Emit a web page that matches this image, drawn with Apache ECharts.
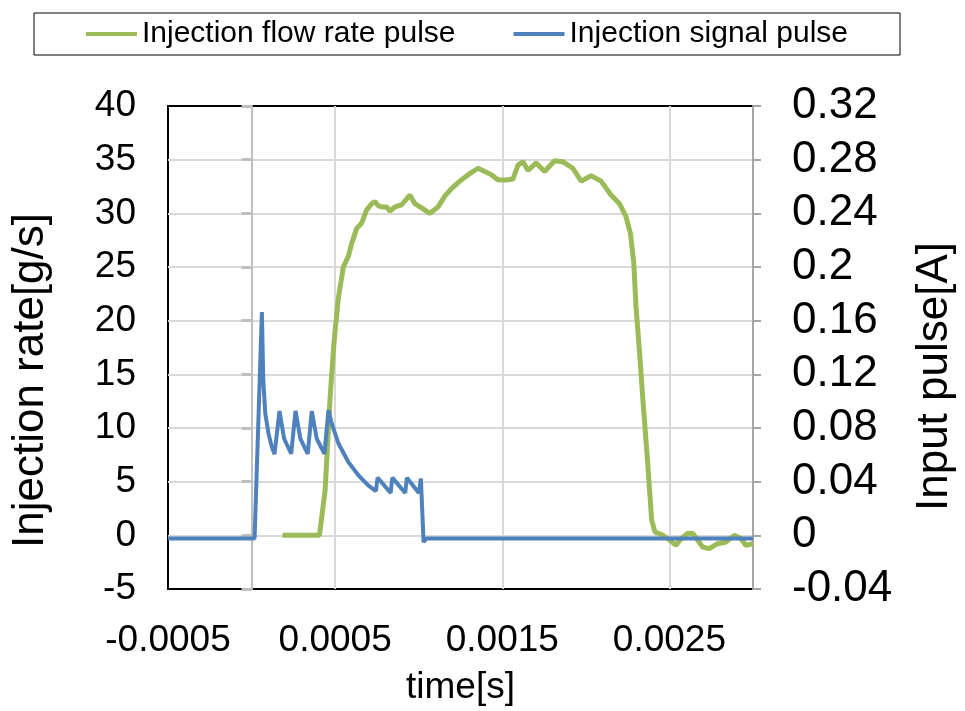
<!DOCTYPE html>
<html>
<head>
<meta charset="utf-8">
<script src="https://cdn.jsdelivr.net/npm/echarts@6/dist/echarts.min.js"></script>
<style>
  html, body { margin: 0; padding: 0; background: #fff; }
  #container { width: 965px; height: 711px; }
</style>
</head>
<body>
<div id="container"></div>
<script>
// time [s] and flow rate [g/s] of the injection flow rate pulse
var flowTime = [0.000185, 0.000406, 0.00044, 0.00047, 0.00049, 0.0005, 0.00052, 0.00054, 0.000549, 0.000579,
    0.000599, 0.000629, 0.000659, 0.000688, 0.000718, 0.000738, 0.000758, 0.000778, 0.000808, 0.000828,
    0.000858, 0.000898, 0.000947, 0.000977, 0.001017, 0.001067, 0.001116, 0.001156, 0.001196, 0.001246,
    0.001296, 0.001355, 0.001395, 0.001435, 0.001475, 0.001524, 0.001564, 0.001594, 0.001624, 0.001654,
    0.001703, 0.001753, 0.001813, 0.001863, 0.001922, 0.001972, 0.002032, 0.002091, 0.002151, 0.002201,
    0.00224, 0.002267, 0.002287, 0.0023, 0.00232, 0.00234, 0.00237, 0.002394, 0.002414, 0.00245,
    0.00249, 0.00254, 0.002565, 0.002605, 0.002639, 0.002699, 0.002738, 0.002788, 0.002838, 0.002888,
    0.002927, 0.002957, 0.003];
var flowRate = [0, 0, 4.2, 12.9, 17.3, 19.1, 22.2, 24.1, 25.0, 26.0,
    27.2, 28.6, 29.1, 30.3, 30.9, 31.1, 30.7, 30.6, 30.6, 30.2,
    30.6, 30.8, 31.7, 30.9, 30.5, 30.0, 30.6, 31.6, 32.3, 33.0,
    33.6, 34.2, 33.9, 33.6, 33.1, 33.1, 33.2, 34.5, 34.8, 34.0,
    34.7, 33.9, 34.9, 34.8, 34.2, 33.0, 33.5, 33.0, 31.7, 30.9,
    29.7, 28.1, 25.3, 21.3, 17.3, 12.9, 6.7, 1.4, 0.3, 0.1,
    -0.3, -0.93, -0.4, 0.16, 0.2, -1.09, -1.24, -0.78, -0.62, 0,
    -0.3, -0.93, -0.78];

// time [s] and current [A] of the injection signal pulse
var signalTime = [-0.0005, 0.000018, 0.0000617, 0.00007, 0.000082, 0.000101, 0.000121, 0.000137,
    0.000167, 0.000195, 0.000237, 0.000263, 0.000292, 0.000336, 0.00036, 0.00039, 0.000436, 0.00046,
    0.00048, 0.00052, 0.000579, 0.000639, 0.000698, 0.000744, 0.000754, 0.000832, 0.000842, 0.000919,
    0.000929, 0.001001, 0.001013, 0.001029, 0.001047, 0.003];
var signalCurrent = [-0.0024, -0.0024, 0.1664, 0.116, 0.0908, 0.076, 0.0659, 0.0605,
    0.0926, 0.072, 0.0608, 0.0928, 0.072, 0.0608, 0.0926, 0.072, 0.0608, 0.0933,
    0.0832, 0.0684, 0.0547, 0.0448, 0.0373, 0.033, 0.043, 0.0316, 0.043, 0.0316,
    0.043, 0.0316, 0.0423, -0.005, -0.0024, -0.0024];

var legendNames = ['Injection flow rate pulse', 'Injection signal pulse'];

function pairs(xs, ys) {
    var out = [];
    for (var i = 0; i < xs.length; i++) {
        out.push([xs[i], ys[i]]);
    }
    return out;
}

var font = 'Liberation Sans, Arial, sans-serif';
var gridColor = '#d9d9d9';
var axisGrey = '#a6a6a6';

var dom = document.getElementById('container');
var myChart = echarts.init(dom, null, { renderer: 'canvas' });

var option = {
    backgroundColor: '#fff',
    animation: false,
    legend: {
        top: 13,
        left: 34,
        padding: [6, 52],
        itemGap: 58,
        itemWidth: 51,
        itemHeight: 4,
        icon: 'rect',
        borderColor: '#000',
        borderWidth: 1,
        textStyle: { fontFamily: font, fontSize: 30, color: '#000', lineHeight: 30 },
        data: legendNames
    },
    grid: {
        left: 168,
        top: 106,
        right: 210,
        bottom: 122,
        show: true,
        borderColor: '#000',
        borderWidth: 2
    },
    xAxis: {
        type: 'value',
        min: -0.0005,
        max: 0.003,
        interval: 0.001,
        name: 'time[s]',
        nameLocation: 'middle',
        nameGap: 80,
        nameTextStyle: { fontFamily: font, fontSize: 37, color: '#000' },
        axisLine: { show: false, onZero: false },
        axisTick: { show: false },
        axisLabel: {
            fontFamily: font, fontSize: 37, color: '#000', margin: 33,
            showMaxLabel: false,
            formatter: function (v) { return String(+v.toFixed(4)); }
        },
        splitLine: { show: true, showMinLine: false, showMaxLine: false, lineStyle: { color: gridColor, width: 2 } }
    },
    yAxis: [
        {
            type: 'value',
            min: -5,
            max: 40,
            interval: 5,
            position: 'left',
            name: 'Injection rate[g/s]',
            nameLocation: 'middle',
            nameRotate: 90,
            nameGap: 115,
            nameTextStyle: { fontFamily: font, fontSize: 44, color: '#000', padding: [0, 66, 0, 0] },
            axisLine: { show: false, onZero: false },
            axisTick: { show: false },
            axisLabel: { fontFamily: font, fontSize: 37, color: '#000', margin: 32 },
            splitLine: { show: true, showMinLine: false, showMaxLine: false, lineStyle: { color: gridColor, width: 2 } }
        },
        {
            type: 'value',
            min: -0.04,
            max: 0.32,
            interval: 0.04,
            position: 'right',
            name: 'Input pulse[A]',
            nameLocation: 'middle',
            nameRotate: 90,
            nameGap: 160,
            nameTextStyle: { fontFamily: font, fontSize: 44, color: '#000', padding: [0, 58, 0, 0] },
            axisLine: { show: true, onZero: false, lineStyle: { color: axisGrey, width: 2 } },
            axisTick: { show: true, inside: false, length: 8, lineStyle: { color: axisGrey, width: 2 } },
            axisLabel: {
                fontFamily: font, fontSize: 44, color: '#000', margin: 39,
                formatter: function (v) { return String(+v.toFixed(2)); }
            },
            splitLine: { show: false }
        },
        {
            // vertical axis line crossing at time 0
            type: 'value',
            min: -5,
            max: 40,
            interval: 5,
            position: 'left',
            axisLine: { show: true, onZero: true, onZeroAxisIndex: 0, lineStyle: { color: '#bfbfbf', width: 2 } },
            axisTick: { show: true, inside: false, length: 10, lineStyle: { color: '#bfbfbf', width: 3 } },
            axisLabel: { show: false },
            splitLine: { show: false }
        }
    ],
    series: [
        {
            name: legendNames[0],
            type: 'line',
            yAxisIndex: 0,
            symbol: 'none',
            color: '#9bbb59',
            lineStyle: { width: 5, color: '#9bbb59' },
            data: pairs(flowTime, flowRate)
        },
        {
            name: legendNames[1],
            type: 'line',
            yAxisIndex: 1,
            symbol: 'none',
            color: '#4f81bd',
            lineStyle: { width: 4, color: '#4f81bd' },
            data: pairs(signalTime, signalCurrent)
        }
    ]
};

myChart.setOption(option);
</script>
</body>
</html>
